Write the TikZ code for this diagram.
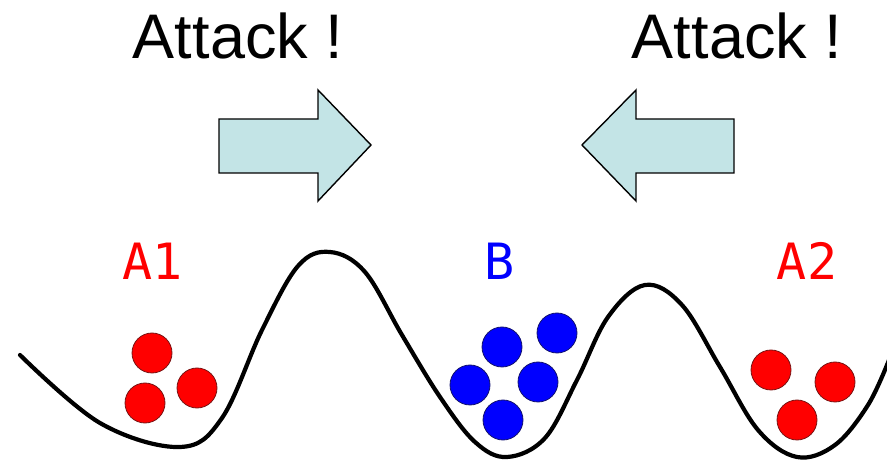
\documentclass[tikz,border=0pt]{standalone}
\usepackage{fontspec}
\setmainfont{Liberation Sans}
\newfontfamily\labfont{DejaVu Sans Mono}
\definecolor{arrowfill}{RGB}{195,228,230}
\definecolor{ballred}{RGB}{255,0,0}
\definecolor{ballblue}{RGB}{0,0,255}
\definecolor{redline}{RGB}{120,20,20}
\definecolor{blueline}{RGB}{20,20,110}
\begin{document}
\begin{tikzpicture}[x=1pt,y=-1pt,
  attacktext/.style={inner sep=0pt,anchor=base,font=\fontsize{63}{70}\selectfont},
  welllabel/.style={inner sep=0pt,anchor=base,font=\labfont\fontsize{50}{56}\selectfont},
  bigarrow/.style={draw=black,line width=1.4pt,fill=arrowfill,line join=miter},
  redball/.style={circle,minimum size=40pt,inner sep=0pt,fill=ballred,draw=redline,line width=0.8pt},
  blueball/.style={circle,minimum size=40pt,inner sep=0pt,fill=ballblue,draw=blueline,line width=0.8pt},
  landscape/.style={line width=4.2pt,line cap=round,line join=round}]
\useasboundingbox (0,0) rectangle (887,462);
% titles
\node[attacktext] (t1) at (238,59) {Attack !};
\node[attacktext] (t2) at (737,59) {Attack !};
% arrows
\draw[bigarrow] (219,119) -- (318,119) -- (318,90) -- (371,145) -- (318,201) -- (318,173) -- (219,173) -- cycle;
\draw[bigarrow] (734,119) -- (636,119) -- (636,90) -- (582,145) -- (636,201) -- (636,173) -- (734,173) -- cycle;
% labels
\node[welllabel,text=ballred] (la1) at (153,280) {A1};
\node[welllabel,text=ballblue] (lb) at (500,280) {B};
\node[welllabel,text=ballred] (la2) at (807,280) {A2};
% landscape
\draw[landscape] plot[smooth,tension=0.6] coordinates {
 (20,355) (100,423) (180,447) (222,418) (262,330) (298,266) (330,252)
 (365,272) (402,335) (440,397) (475,442) (507,457) (545,438) (577,380)
 (608,317) (645,285) (682,305) (720,367) (758,430) (797,457) (835,445)
 (868,405) (889,360)};
% balls
\node[redball] (a1) at (152,353) {};
\node[redball] (a2) at (145,403) {};
\node[redball] (a3) at (197,388) {};
\node[blueball] (b1) at (502,347) {};
\node[blueball] (b2) at (557,333) {};
\node[blueball] (b3) at (470,385) {};
\node[blueball] (b4) at (538,382) {};
\node[blueball] (b5) at (503,420) {};
\node[redball] (c1) at (771,370) {};
\node[redball] (c2) at (835,382) {};
\node[redball] (c3) at (797,420) {};
\end{tikzpicture}
\end{document}
